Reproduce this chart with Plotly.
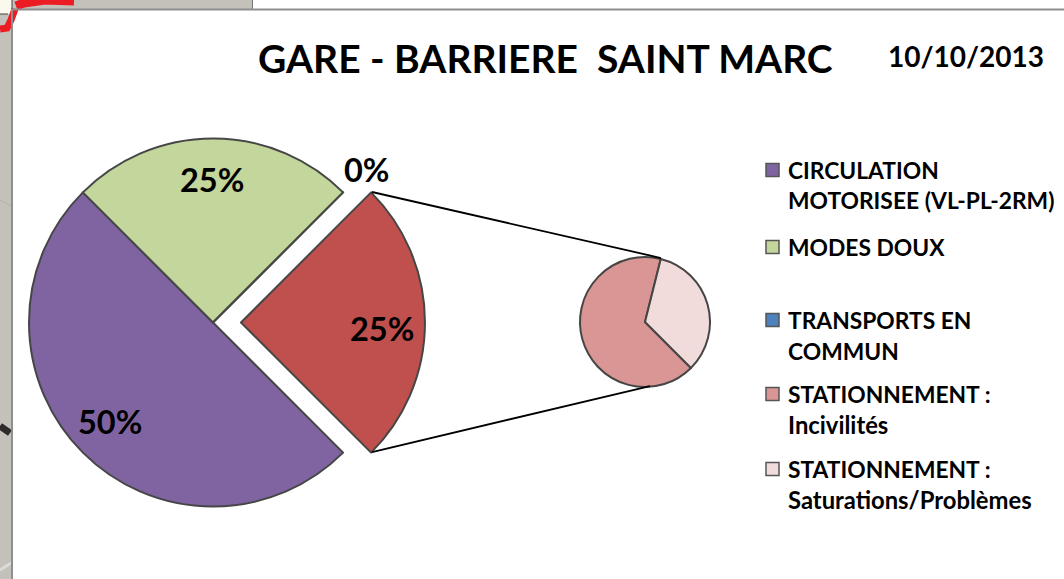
import plotly.graph_objects as go

W, H = 1064, 579
TITLE = "GARE - BARRIERE  SAINT MARC"
DATE = "10/10/2013"

main_labels = ["CIRCULATION MOTORISEE (VL-PL-2RM)", "MODES DOUX", "TRANSPORTS EN COMMUN", "STATIONNEMENT"]
main_values = [50, 25, 0, 25]
main_colors = ["#8064A2", "#C3D69B", "#4F81BD", "#C0504D"]
main_pull = [0, 0, 0, 0.152]

detail_labels = ["STATIONNEMENT : Incivilités", "STATIONNEMENT : Saturations/Problèmes"]
detail_values = [16.6, 8.4]
detail_colors = ["#D99694", "#F2DCDB"]

legend_lines = [
    ["CIRCULATION", "MOTORISEE (VL-PL-2RM)"],
    ["MODES DOUX"],
    ["TRANSPORTS EN", "COMMUN"],
    ["STATIONNEMENT :", "Incivilités"],
    ["STATIONNEMENT :", "Saturations/Problèmes"],
]
legend_colors = ["#8064A2", "#C3D69B", "#4F81BD", "#D99694", "#F2DCDB"]
legend_y = [170, 247, 320, 394, 469]

FONT = "Lato, 'Open Sans', sans-serif"
EDGE = "#464646"
MAP = "#c4c1bb"

def dom(x0, x1, y0, y1):
    return dict(x=[x0 / W, x1 / W], y=[1 - y1 / H, 1 - y0 / H])

fig = go.Figure()
R, PULL = 184, max(main_pull)
half = R * (1 + PULL)
fig.add_trace(go.Pie(
    labels=main_labels, values=main_values, sort=False, direction="clockwise", rotation=135,
    pull=main_pull, domain=dom(213 - half, 213 + half, 322.5 - half, 322.5 + half),
    marker=dict(colors=main_colors, line=dict(color=EDGE, width=2)),
    textinfo="none", showlegend=False, hoverinfo="label+percent"))
fig.add_trace(go.Pie(
    labels=detail_labels, values=detail_values, sort=False, direction="clockwise", rotation=135,
    domain=dom(580, 710, 257, 387),
    marker=dict(colors=detail_colors, line=dict(color=EDGE, width=2)),
    textinfo="none", showlegend=False, hoverinfo="label+percent"))

def rect(x0, y0, x1, y1, color):
    return dict(type="rect", xref="paper", yref="paper", x0=x0 / W, x1=x1 / W, y0=1 - y0 / H, y1=1 - y1 / H,
                fillcolor=color, line=dict(width=0), layer="below")

def path(points, color, width, layer="above"):
    d = "M " + " L ".join(f"{x / W:.5f},{1 - y / H:.5f}" for x, y in points)
    return dict(type="path", xref="paper", yref="paper", path=d, layer=layer,
                line=dict(color=color, width=width))

shapes = [
    rect(0, 0, 12, H, MAP),
    rect(0, 0, 252, 10, MAP),
    rect(0, 0, 12, 14, "#fbf9ee"),
    path([(0, 29), (7, 28), (11, 20), (15, 9)], "#ec1c24", 7),
    path([(16, 6), (24, 3), (45, 0), (74, 1)], "#ec1c24", 9),
    path([(0, 14), (8, 14)], "#444444", 1),
    path([(12, 0), (12, 9)], "#444444", 1),
    path([(252.5, 0), (252.5, 9)], "#777777", 1),
    path([(0, 426), (10, 433)], "#2e2b2a", 7),
    path([(0, 570), (11, 563)], "#dddbd8", 3),
    path([(0, 200), (11, 206)], "#b5b2ac", 1),
    path([(12, 9), (12, H)], "#8e8e8e", 2),
    path([(12, 9.5), (W, 9.5)], "#8e8e8e", 2),
    path([(372, 192), (661, 258)], "#000000", 1.8),
    path([(372, 452), (650, 386)], "#000000", 1.8),
]

def text(x, y, s, size, anchor="left"):
    return dict(x=x / W, y=1 - y / H, xref="paper", yref="paper", text=s, showarrow=False,
                xanchor=anchor, yanchor="middle", font=dict(family=FONT, size=size, color="#000000"),
                align=anchor)

def bold(s):
    return f"<b>{s}</b>"

ann = [
    text(545, 58, bold(TITLE), 39, "center"),
    text(965.5, 56, bold(DATE), 28, "center"),
    text(211.5, 179, bold("25%"), 32.5, "center"),
    text(366, 169, bold("0%"), 32.5, "center"),
    text(382, 328, bold("25%"), 32.5, "center"),
    text(110, 421, bold("50%"), 32.5, "center"),
]
for lines, color, y in zip(legend_lines, legend_colors, legend_y):
    shapes.append(dict(type="rect", xref="paper", yref="paper",
                       x0=766 / W, x1=779 / W, y0=1 - (y + 6.5) / H, y1=1 - (y - 6.5) / H,
                       fillcolor=color, line=dict(color="#555555", width=1.5)))
    for i, line in enumerate(lines):
        size = 23.8 if line != line.upper() else 22.8
        ann.append(text(786, y + i * 30.5, bold(line), size))

fig.update_layout(width=W, height=H, margin=dict(l=0, r=0, t=0, b=0), paper_bgcolor="white",
                  showlegend=False, shapes=shapes, annotations=ann)
fig.write_html("out.html", config=dict(displayModeBar=False),
               post_script="document.body.style.margin='0';document.body.style.overflow='hidden';")
